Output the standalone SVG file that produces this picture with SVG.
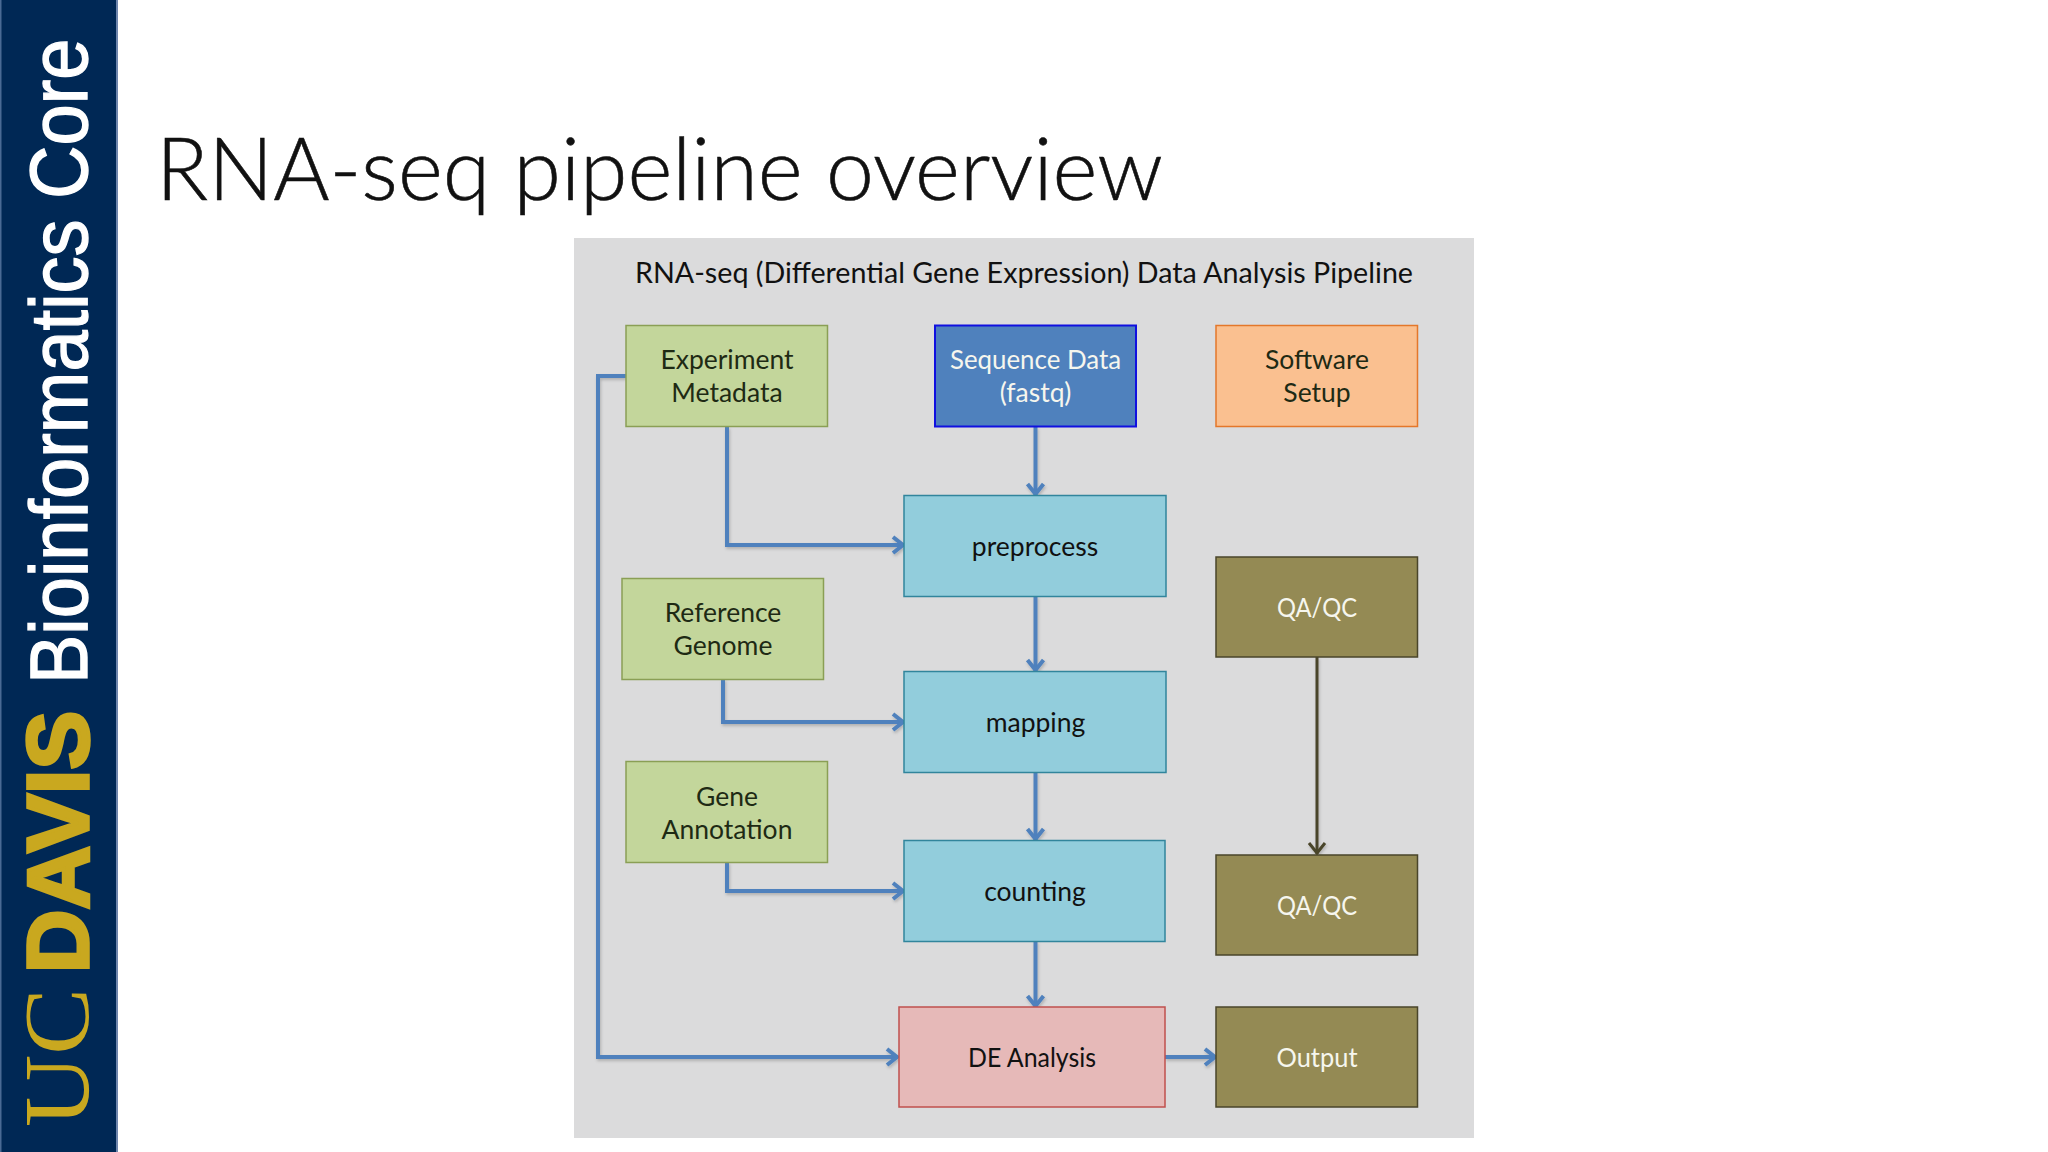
<svg xmlns="http://www.w3.org/2000/svg" width="2048" height="1152" viewBox="0 0 2048 1152">
<style>
text{font-family:Lato,"Open Sans",sans-serif}
.lbl{font-size:26.5px;text-anchor:middle;fill:#1e2a14}
.w{fill:#f6f6ee}
.k{fill:#111}
.conn{fill:none;stroke:#4f81bd;stroke-width:4;marker-end:url(#ah)}
.conn2{fill:none;stroke:#4a452a;stroke-width:3;marker-end:url(#ah2)}
.g{fill:#c3d69b;stroke:#8a9f55;stroke-width:1.500}
.b{fill:#4f81bd;stroke:#1010e0;stroke-width:2}
.o{fill:#fac090;stroke:#e4772a;stroke-width:1.500}
.c{fill:#92cddc;stroke:#31859c;stroke-width:1.500}
.r{fill:#e6b9b8;stroke:#c0504d;stroke-width:1.500}
.ol{fill:#948a54;stroke:#4a452a;stroke-width:1.500}
</style>
<defs>
<marker id="ah" markerUnits="userSpaceOnUse" markerWidth="26" markerHeight="26" refX="22" refY="13" orient="auto"><path d="M11 5L21 13L11 21" fill="none" stroke="#4f81bd" stroke-width="4"/></marker>
<marker id="ah2" markerUnits="userSpaceOnUse" markerWidth="26" markerHeight="26" refX="22" refY="13" orient="auto"><path d="M11 5L21 13L11 21" fill="none" stroke="#4a452a" stroke-width="3"/></marker>
<filter id="sh" x="-20%" y="-20%" width="140%" height="140%"><feDropShadow dx="1" dy="2" stdDeviation="1.500" flood-color="#000" flood-opacity=".2"/></filter>
</defs>
<rect width="2048" height="1152" fill="#fff"/>
<g id="sidebar">
<rect x="0" y="0" width="118" height="1152" fill="#002855"/>
<rect x="116" y="0" width="2" height="1152" fill="#6f86ad"/>
<rect x="0" y="0" width="1.500" height="1152" fill="#4a6a94"/>
<text transform="translate(88,1127) rotate(-90)" font-size="94" textLength="139" lengthAdjust="spacingAndGlyphs" style="font-family:'Liberation Serif',serif" fill="#c9a81f">UC</text>
<text transform="translate(88,973) rotate(-90)" font-size="87" font-weight="bold" textLength="262" lengthAdjust="spacingAndGlyphs" style="font-family:'Liberation Sans',sans-serif" fill="#c9a81f" stroke="#c9a81f" stroke-width="3.500">DAVIS</text>
<text transform="translate(87,684) rotate(-90) scale(1,1.100)" font-size="74" style="font-family:'Liberation Sans',sans-serif" fill="#fff" stroke="#fff" stroke-width="1.200">Bioinformatics Core</text>
</g>
<text id="title" x="156" y="200" font-size="86" font-weight="300" textLength="1007" lengthAdjust="spacingAndGlyphs" fill="#111" stroke="#111" stroke-width=".6">RNA-seq pipeline overview</text>
<rect id="panel" x="574" y="238" width="900" height="900" fill="#dbdbdc"/>
<text id="panel-title" x="1024" y="283" font-size="28.5" text-anchor="middle" textLength="778" lengthAdjust="spacingAndGlyphs" fill="#111">RNA-seq (Differential Gene Expression) Data Analysis Pipeline</text>
<g id="connectors" filter="url(#sh)">
<path class="conn" d="M626 376H598V1057H898"/>
<path class="conn" d="M727 427V545H904"/>
<path class="conn" d="M1035.500 427V495"/>
<path class="conn" d="M1035.500 596V671"/>
<path class="conn" d="M1035.500 772V840"/>
<path class="conn" d="M1035.500 941V1007"/>
<path class="conn" d="M723 679V722H904"/>
<path class="conn" d="M727 862V891H904"/>
<path class="conn" d="M1165 1057H1216"/>
<path class="conn2" d="M1317 657V854"/>
</g>
<g id="experiment-metadata"><rect class="g" x="626" y="325.500" width="201.500" height="101"/><text class="lbl" x="727" y="369">Experiment</text><text class="lbl" x="727" y="402">Metadata</text></g>
<g id="sequence-data"><rect class="b" x="935" y="325.500" width="201" height="101"/><text class="lbl w" x="1035.500" y="369" textLength="171" lengthAdjust="spacingAndGlyphs">Sequence Data</text><text class="lbl w" x="1035.500" y="402">(fastq)</text></g>
<g id="software-setup"><rect class="o" x="1216" y="325.500" width="201.500" height="101"/><text class="lbl" x="1317" y="369">Software</text><text class="lbl" x="1317" y="402">Setup</text></g>
<g id="preprocess"><rect class="c" x="904" y="495.500" width="262" height="101"/><text class="lbl k" x="1035" y="556">preprocess</text></g>
<g id="reference-genome"><rect class="g" x="622" y="578.500" width="201.500" height="101"/><text class="lbl" x="723" y="622">Reference</text><text class="lbl" x="723" y="655">Genome</text></g>
<g id="qaqc-1"><rect class="ol" x="1216" y="557" width="201.500" height="100"/><text class="lbl w" x="1317" y="617" textLength="80" lengthAdjust="spacingAndGlyphs">QA/QC</text></g>
<g id="mapping"><rect class="c" x="904" y="671.500" width="262" height="101"/><text class="lbl k" x="1035.500" y="732">mapping</text></g>
<g id="gene-annotation"><rect class="g" x="626" y="761.500" width="201.500" height="101"/><text class="lbl" x="727" y="806">Gene</text><text class="lbl" x="727" y="839">Annotation</text></g>
<g id="counting"><rect class="c" x="904" y="840.500" width="261" height="101"/><text class="lbl k" x="1035" y="901">counting</text></g>
<g id="qaqc-2"><rect class="ol" x="1216" y="855" width="201.500" height="100"/><text class="lbl w" x="1317" y="915" textLength="80" lengthAdjust="spacingAndGlyphs">QA/QC</text></g>
<g id="de-analysis"><rect class="r" x="899" y="1007" width="266" height="100"/><text class="lbl k" x="1032" y="1067" textLength="128" lengthAdjust="spacingAndGlyphs">DE Analysis</text></g>
<g id="output"><rect class="ol" x="1216" y="1007" width="201.500" height="100"/><text class="lbl w" x="1317" y="1067" textLength="81" lengthAdjust="spacingAndGlyphs">Output</text></g>
</svg>
